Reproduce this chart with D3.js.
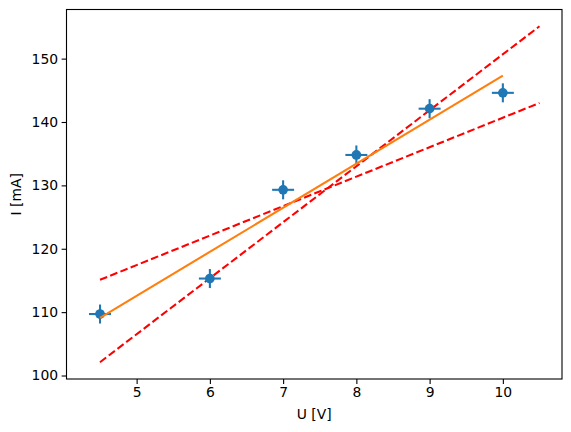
<!DOCTYPE html>
<html><head><meta charset="utf-8">
<script src="https://cdn.jsdelivr.net/npm/d3@7"></script>
<style>
html,body{margin:0;padding:0;background:#fff;}
svg{display:block;font-family:"DejaVu Sans",sans-serif;}
</style></head>
<body>
<svg id="chart" width="571" height="432"></svg>
<script>
// Measured data (U in V, I in mA)
const voltages = [4.5, 6, 7, 8, 9, 10];
const currents = [109.7, 115.3, 129.3, 134.8, 142.1, 144.6];
const voltageErr = [0.15, 0.15, 0.15, 0.15, 0.15, 0.15];
const currentErr = [1.5, 1.5, 1.5, 1.5, 1.5, 1.5];
// Fit line endpoints
const fitU = [4.5, 10];
const fitI = [109.1, 147.3];
// Limit lines (dashed)
const steepU = [4.5, 10.5];
const steepI = [102.1, 155.1];
const shallowU = [4.5, 10.5];
const shallowI = [115.1, 143.0];
const xTicks = [5, 6, 7, 8, 9, 10];
const yTicks = [100, 110, 120, 130, 140, 150];

const svg = d3.select("#chart");
const L = 66.5, R = 562, T = 9.5, B = 379;

const xmin = d3.min([d3.min(voltages.map((v,i)=>v-voltageErr[i])), ...steepU, ...shallowU, ...fitU]);
const xmax = d3.max([d3.max(voltages.map((v,i)=>v+voltageErr[i])), ...steepU, ...shallowU, ...fitU]);
const ymin = d3.min([d3.min(currents.map((v,i)=>v-currentErr[i])), ...steepI, ...shallowI, ...fitI]);
const ymax = d3.max([d3.max(currents.map((v,i)=>v+currentErr[i])), ...steepI, ...shallowI, ...fitI]);
const mx = (xmax-xmin)*0.05, my = (ymax-ymin)*0.05;

const x = d3.scaleLinear().domain([xmin-mx, xmax+mx]).range([L, R]);
const y = d3.scaleLinear().domain([ymin-my, ymax+my]).range([B, T]);

const line = d3.line().x(d=>x(d[0])).y(d=>y(d[1]));

// dashed limit lines
[[steepU, steepI],[shallowU, shallowI]].forEach(([u,i])=>{
  svg.append("path").datum(u.map((v,k)=>[v,i[k]]))
    .attr("d", line).attr("fill","none").attr("stroke","#ff0000")
    .attr("stroke-width",2.08).attr("stroke-dasharray","7.7,3.3");
});

// error bars + points
const pts = voltages.map((v,i)=>({u:v, i:currents[i], eu:voltageErr[i], ei:currentErr[i]}));
const g = svg.append("g");
g.selectAll("line.h").data(pts).join("line")
  .attr("x1",d=>x(d.u-d.eu)).attr("x2",d=>x(d.u+d.eu))
  .attr("y1",d=>y(d.i)).attr("y2",d=>y(d.i))
  .attr("stroke","#1f77b4").attr("stroke-width",2.08);
g.selectAll("line.v").data(pts).join("line")
  .attr("x1",d=>x(d.u)).attr("x2",d=>x(d.u))
  .attr("y1",d=>y(d.i-d.ei)).attr("y2",d=>y(d.i+d.ei))
  .attr("stroke","#1f77b4").attr("stroke-width",2.08);
g.selectAll("circle").data(pts).join("circle")
  .attr("cx",d=>x(d.u)).attr("cy",d=>y(d.i)).attr("r",4.85)
  .attr("fill","#1f77b4");

// fit line
svg.append("path").datum(fitU.map((v,k)=>[v,fitI[k]]))
  .attr("d", line).attr("fill","none").attr("stroke","#ff7f0e")
  .attr("stroke-width",2.08);

// axes
const xAxis = d3.axisBottom(x).tickValues(xTicks).tickSize(4.9).tickPadding(3.5).tickFormat(d3.format("d"));
const yAxis = d3.axisLeft(y).tickValues(yTicks).tickSize(4.9).tickPadding(3.5).tickFormat(d3.format("d"));
const gx = svg.append("g").attr("transform",`translate(0,${B})`).call(xAxis);
const gy = svg.append("g").attr("transform",`translate(${L},0)`).call(yAxis);
[gx,gy].forEach(a=>{
  a.select(".domain").remove();
  a.selectAll(".tick line").attr("stroke","#000").attr("stroke-width",1.1);
  a.selectAll(".tick text").attr("fill","#000").attr("font-size","13.9px").attr("font-family","DejaVu Sans");
});

// frame
svg.append("rect").attr("x",L).attr("y",T).attr("width",R-L).attr("height",B-T)
  .attr("fill","none").attr("stroke","#000").attr("stroke-width",1.1);

// labels
svg.append("text").attr("x",(L+R)/2).attr("y",419).attr("text-anchor","middle")
  .attr("font-size","13.9px").attr("fill","#000").text("U [V]");
svg.append("text").attr("transform",`translate(20.5,${(T+B)/2}) rotate(-90)`)
  .attr("text-anchor","middle").attr("font-size","13.9px").attr("fill","#000").text("I [mA]");
</script>
</body></html>
